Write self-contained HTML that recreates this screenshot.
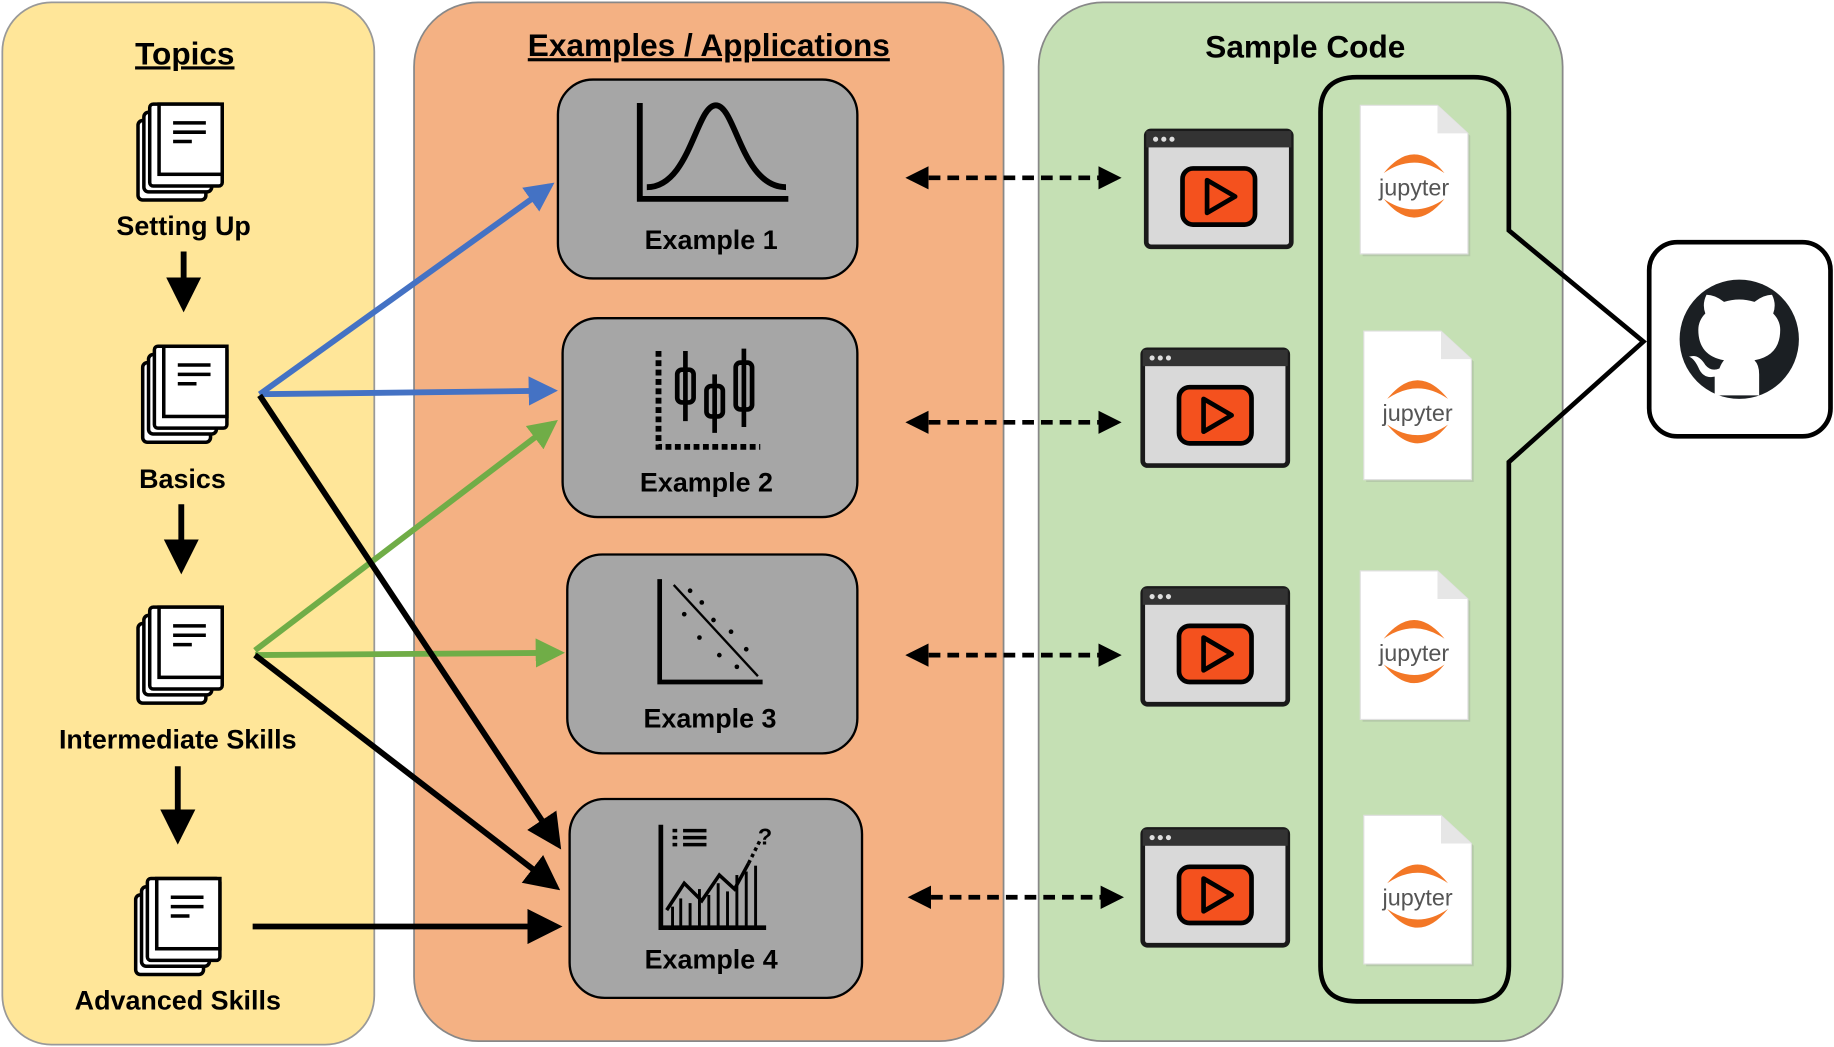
<!DOCTYPE html>
<html><head><meta charset="utf-8"><style>
html,body{margin:0;padding:0;background:#fff}
svg{display:block}
text{font-family:"Liberation Sans",sans-serif;font-weight:bold}
</style></head><body>
<svg width="1834" height="1047" viewBox="0 0 1568 895" preserveAspectRatio="none" xmlns="http://www.w3.org/2000/svg">
<defs>
<marker id="ak" markerWidth="6" markerHeight="6" refX="5" refY="3" orient="auto" markerUnits="strokeWidth"><path d="M0,0 L6,3 L0,6 z" fill="#000"/></marker>
<marker id="ab" markerWidth="5" markerHeight="5" refX="4" refY="2.5" orient="auto" markerUnits="strokeWidth"><path d="M0,0 L5,2.5 L0,5 z" fill="#4472C4"/></marker>
<marker id="ag" markerWidth="5" markerHeight="5" refX="4" refY="2.5" orient="auto" markerUnits="strokeWidth"><path d="M0,0 L5,2.5 L0,5 z" fill="#70AD47"/></marker>
<marker id="ad" markerWidth="5" markerHeight="5" refX="4" refY="2.5" orient="auto-start-reverse" markerUnits="strokeWidth"><path d="M0,0 L5,2.5 L0,5 z" fill="#000"/></marker>
<g id="book">
<rect x="0" y="14" width="58" height="68" rx="4" fill="#fff" stroke="#000" stroke-width="3"/>
<rect x="5" y="7" width="58" height="68" rx="4" fill="#fff" stroke="#000" stroke-width="3"/>
<rect x="10" y="0" width="62" height="70" rx="3" fill="#fff" stroke="#000" stroke-width="3"/>
<rect x="18" y="0" width="54" height="60" fill="#fff" stroke="#000" stroke-width="3"/>
<line x1="30" y1="16" x2="58" y2="16" stroke="#000" stroke-width="3"/>
<line x1="30" y1="24" x2="58" y2="24" stroke="#000" stroke-width="3"/>
<line x1="30" y1="32" x2="46" y2="32" stroke="#000" stroke-width="3"/>
</g>
<g id="vid">
<rect x="0" y="0" width="124" height="99" rx="4" fill="#D9D9D9" stroke="#1a1a1a" stroke-width="4"/>
<rect x="0" y="0" width="124" height="14" fill="#333"/>
<circle cx="8" cy="7" r="2.2" fill="#ddd"/><circle cx="15" cy="7" r="2.2" fill="#ddd"/><circle cx="22" cy="7" r="2.2" fill="#ddd"/>
<rect x="31" y="32" width="62" height="48" rx="9" fill="#F4511E" stroke="#000" stroke-width="4"/>
<path d="M52,42 L76,56 L52,70 z" fill="#F4511E" stroke="#000" stroke-width="4" stroke-linejoin="round"/>
</g>
<g id="jup">
<path d="M2,2 L68,2 L94,26 L94,129 L2,129 z" fill="#888" opacity="0.25"/>
<path d="M0,0 L66,0 L92,24 L92,127 L0,127 z" fill="#fff" stroke="#e0e0e0"/>
<path d="M66,0 L66,24 L92,24" fill="#e6e6e6"/>
<path d="M20,58 Q46,26 72,58 Q46,40 20,58 z" fill="#F37726"/>
<path d="M20,80 Q46,112 72,80 Q46,98 20,80 z" fill="#F37726"/>
<text x="46" y="77" text-anchor="middle" font-size="20" fill="#555" style="font-weight:normal">jupyter</text>
</g>
</defs>

<rect x="2" y="2" width="318" height="891" rx="42" fill="#FFE699" stroke="#999" stroke-width="1.5"/>
<rect x="354" y="2" width="504" height="888" rx="55" fill="#F4B183" stroke="#888" stroke-width="1.5"/>
<rect x="888" y="2" width="448" height="888" rx="55" fill="#C5E0B4" stroke="#888" stroke-width="1.5"/>

<text x="158" y="55" text-anchor="middle" font-size="27" text-decoration="underline">Topics</text>
<text x="606" y="48" text-anchor="middle" font-size="27" text-decoration="underline">Examples / Applications</text>
<text x="1116" y="49" text-anchor="middle" font-size="27">Sample Code</text>

<use href="#book" x="118" y="89"/>
<use href="#book" x="122" y="296"/>
<use href="#book" x="118" y="519"/>
<use href="#book" x="116" y="751"/>
<text x="157" y="201" text-anchor="middle" font-size="23">Setting Up</text>
<text x="156" y="417" text-anchor="middle" font-size="23">Basics</text>
<text x="152" y="640" text-anchor="middle" font-size="23">Intermediate Skills</text>
<text x="152" y="863" text-anchor="middle" font-size="23">Advanced Skills</text>

<g stroke="#000" stroke-width="5">
<line x1="157" y1="215" x2="157" y2="262" marker-end="url(#ak)"/>
<line x1="155" y1="431" x2="155" y2="486" marker-end="url(#ak)"/>
<line x1="152" y1="655" x2="152" y2="717" marker-end="url(#ak)"/>
</g>

<g fill="#A6A6A6" stroke="#000" stroke-width="2">
<rect x="477" y="68" width="256" height="170" rx="30"/>
<rect x="481" y="272" width="252" height="170" rx="30"/>
<rect x="485" y="474" width="248" height="170" rx="30"/>
<rect x="487" y="683" width="250" height="170" rx="30"/>
</g>
<text x="608" y="213" text-anchor="middle" font-size="23">Example 1</text>
<text x="604" y="420" text-anchor="middle" font-size="23">Example 2</text>
<text x="607" y="622" text-anchor="middle" font-size="23">Example 3</text>
<text x="608" y="828" text-anchor="middle" font-size="23">Example 4</text>

<!-- icon 1 -->
<path d="M547,88 L547,170 L674,170" fill="none" stroke="#000" stroke-width="5"/>
<path d="M553,160 C590,160 595,90 612,90 C629,90 634,160 672,160" fill="none" stroke="#000" stroke-width="5"/>
<!-- icon 2 -->
<path d="M563,300 L563,382 L650,382" fill="none" stroke="#000" stroke-width="5" stroke-dasharray="5,3"/>
<g stroke="#000" stroke-width="4" fill="none">
<line x1="586" y1="300" x2="586" y2="360"/><rect x="579" y="316" width="14" height="28" rx="4"/>
<line x1="611" y1="320" x2="611" y2="370"/><rect x="604" y="330" width="14" height="26" rx="4"/>
<line x1="636" y1="298" x2="636" y2="365"/><rect x="629" y="310" width="14" height="40" rx="4"/>
</g>
<!-- icon 3 -->
<path d="M564,495 L564,583 L652,583" fill="none" stroke="#000" stroke-width="4"/>
<line x1="576" y1="500" x2="648" y2="578" stroke="#000" stroke-width="2"/>
<g fill="#000"><circle cx="590" cy="505" r="2"/><circle cx="600" cy="515" r="2"/><circle cx="585" cy="525" r="2"/><circle cx="610" cy="530" r="2"/><circle cx="598" cy="545" r="2"/><circle cx="625" cy="540" r="2"/><circle cx="615" cy="560" r="2"/><circle cx="638" cy="555" r="2"/><circle cx="630" cy="570" r="2"/></g>
<!-- icon 4 -->
<path d="M565,705 L565,793 L655,793" fill="none" stroke="#000" stroke-width="4"/>
<g stroke="#000" stroke-width="3">
<line x1="575" y1="710" x2="579" y2="710"/><line x1="584" y1="710" x2="604" y2="710"/>
<line x1="575" y1="716" x2="579" y2="716"/><line x1="584" y1="716" x2="604" y2="716"/>
<line x1="575" y1="722" x2="579" y2="722"/><line x1="584" y1="722" x2="604" y2="722"/>
<path d="M570,778 L585,755 L600,770 L615,748 L628,760 L640,738" fill="none"/>
<path d="M640,738 L650,718" stroke-dasharray="3,3"/>
</g>
<text x="648" y="722" font-size="20">?</text>
<g stroke="#000" stroke-width="2.5">
<line x1="575" y1="792" x2="575" y2="775"/><line x1="582" y1="792" x2="582" y2="768"/><line x1="590" y1="792" x2="590" y2="772"/><line x1="598" y1="792" x2="598" y2="760"/><line x1="606" y1="792" x2="606" y2="765"/><line x1="614" y1="792" x2="614" y2="755"/><line x1="622" y1="792" x2="622" y2="762"/><line x1="630" y1="792" x2="630" y2="748"/><line x1="638" y1="792" x2="638" y2="745"/><line x1="646" y1="792" x2="646" y2="740"/>
</g>

<!-- connectors -->
<line x1="222" y1="337" x2="470" y2="159" stroke="#4472C4" stroke-width="5" marker-end="url(#ab)"/>
<line x1="222" y1="337" x2="472" y2="334" stroke="#4472C4" stroke-width="5" marker-end="url(#ab)"/>
<line x1="218" y1="556" x2="473" y2="362" stroke="#70AD47" stroke-width="5" marker-end="url(#ag)"/>
<line x1="218" y1="560" x2="478" y2="558" stroke="#70AD47" stroke-width="5" marker-end="url(#ag)"/>
<line x1="222" y1="338" x2="477" y2="722" stroke="#000" stroke-width="5" marker-end="url(#ab)" style="marker-end:url(#ak)"/>
<line x1="218" y1="560" x2="475" y2="758" stroke="#000" stroke-width="5" style="marker-end:url(#ak)"/>
<line x1="216" y1="792" x2="476" y2="792" stroke="#000" stroke-width="5" style="marker-end:url(#ak)"/>

<g stroke="#000" stroke-width="4" stroke-dasharray="10,6">
<line x1="778" y1="152" x2="955" y2="152" marker-start="url(#ad)" marker-end="url(#ad)"/>
<line x1="778" y1="361" x2="955" y2="361" marker-start="url(#ad)" marker-end="url(#ad)"/>
<line x1="778" y1="560" x2="955" y2="560" marker-start="url(#ad)" marker-end="url(#ad)"/>
<line x1="780" y1="767" x2="957" y2="767" marker-start="url(#ad)" marker-end="url(#ad)"/>
</g>

<use href="#vid" x="980" y="112"/>
<use href="#vid" x="977" y="299"/>
<use href="#vid" x="977" y="503"/>
<use href="#vid" x="977" y="709"/>

<path d="M1160,66 L1260,66 Q1290,66 1290,96 L1290,197 L1405,292 L1290,395 L1290,826 Q1290,856 1260,856 L1160,856 Q1129,856 1129,826 L1129,96 Q1129,66 1160,66 z" fill="none" stroke="#000" stroke-width="4"/>

<use href="#jup" x="1163" y="90"/>
<use href="#jup" x="1166" y="283"/>
<use href="#jup" x="1163" y="488"/>
<use href="#jup" x="1166" y="697"/>

<rect x="1410" y="207" width="155" height="166" rx="24" fill="#fff" stroke="#000" stroke-width="4"/>
<circle cx="1487" cy="290" r="51" fill="#1b1f23"/>
<path d="M1466,338 L1466,322 Q1456,324 1452,314 Q1448,306 1444,305 Q1452,302 1458,312 Q1463,318 1470,315 Q1472,310 1474,308 Q1452,304 1452,282 Q1452,274 1458,268 Q1455,260 1459,252 Q1466,252 1474,258 Q1487,254 1500,258 Q1508,252 1515,252 Q1519,260 1516,268 Q1522,274 1522,282 Q1522,304 1500,308 Q1504,312 1504,320 L1504,338 z" fill="#fff"/>
</svg>
</body></html>
